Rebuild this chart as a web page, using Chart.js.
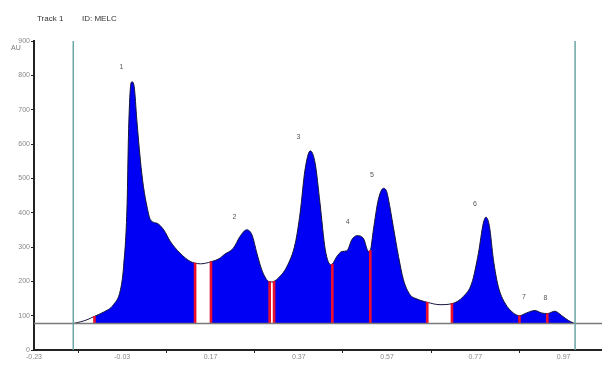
<!DOCTYPE html>
<html>
<head>
<meta charset="utf-8">
<script src="https://cdn.jsdelivr.net/npm/chart.js@4.4.0/dist/chart.umd.min.js"></script>
<style>
html, body { margin: 0; padding: 0; background: #fff; }
#wrap { width: 602px; height: 366px; }
</style>
</head>
<body>
<div id="wrap"><canvas id="densito"></canvas></div>
<script>
// scan of track 1 (Rf vs AU)
const rf = [-0.141, -0.125, -0.110, -0.093, -0.073, -0.050, -0.034, -0.027, -0.019, -0.016,
  -0.012, -0.008, -0.003, 0.003, 0.011, 0.018, 0.026, 0.034, 0.049, 0.064,
  0.079, 0.101, 0.124, 0.135, 0.147, 0.171, 0.192, 0.200, 0.222, 0.237,
  0.252, 0.264, 0.275, 0.286, 0.301, 0.304, 0.309, 0.314, 0.324, 0.343,
  0.362, 0.373, 0.384, 0.396, 0.407, 0.418, 0.430, 0.443, 0.446, 0.456,
  0.468, 0.479, 0.490, 0.502, 0.516, 0.528, 0.532, 0.539, 0.550, 0.562,
  0.569, 0.573, 0.584, 0.596, 0.607, 0.622, 0.637, 0.661, 0.690, 0.717,
  0.743, 0.762, 0.777, 0.788, 0.794, 0.802, 0.811, 0.822, 0.837, 0.856,
  0.870, 0.886, 0.905, 0.920, 0.933, 0.950, 0.966, 0.981, 0.992, 0.996];
const au = [77, 82, 88, 98, 110, 132, 176, 243, 428, 621,
  757, 781, 767, 670, 553, 476, 418, 379, 369, 350,
  316, 282, 258, 253, 251, 257, 268, 277, 297, 331,
  350, 335, 282, 234, 200, 199, 198, 200, 210, 243,
  311, 399, 524, 580, 544, 428, 292, 248, 250, 272,
  287, 289, 321, 333, 326, 287, 290, 350, 437, 471,
  462, 440, 360, 272, 205, 161, 149, 139, 132, 135,
  156, 195, 282, 369, 387, 360, 263, 185, 137, 108,
  100, 108, 115, 108, 106, 113, 100, 86, 79, 77];
const baseAU = 77;

// peak split lines
const splitRf = [-0.093, 0.135, 0.171, 0.304, 0.314, 0.446, 0.532, 0.661, 0.717, 0.870, 0.933];
const splitAU = [98, 253, 257, 199, 200, 250, 290, 139, 135, 100, 106];

// unintegrated stretches
const gapStart = [-0.141, 0.135, 0.304, 0.661];
const gapEnd = [-0.093, 0.171, 0.314, 0.717];

const peakNo = ['1', '2', '3', '4', '5', '6', '7', '8'];
const peakRf = [-0.032, 0.224, 0.369, 0.481, 0.536, 0.769, 0.880, 0.929];
const peakAU = [825, 388, 620, 374, 510, 425, 153, 151];

const trackLines = [-0.141, 0.996];
const xTicks = [-0.23, -0.03, 0.17, 0.37, 0.57, 0.77, 0.97];
const yTicks = [0, 100, 200, 300, 400, 500, 600, 700, 800, 900];

const xMin = -0.23, xMax = 1.057;

function inGap(a, b) {
    for (let i = 0; i < gapStart.length; i++) {
        if (a >= gapStart[i] - 1e-9 && b <= gapEnd[i] + 1e-9) return true;
    }
    return false;
}

const labels = {
    id: 'labels',
    afterDatasetsDraw(chart) {
        const { ctx, scales: { x, y } } = chart;
        ctx.save();
        ctx.fillStyle = '#555';
        ctx.font = '7px "Liberation Sans"';
        ctx.textAlign = 'center';
        ctx.textBaseline = 'middle';
        peakNo.forEach((n, i) => {
            ctx.fillText(n, x.getPixelForValue(peakRf[i]), y.getPixelForValue(peakAU[i]));
        });
        ctx.textAlign = 'left';
        ctx.textBaseline = 'alphabetic';
        ctx.fillStyle = '#333';
        ctx.font = '8px "Liberation Sans"';
        ctx.fillText('Track 1', 37, 21);
        ctx.fillText('ID: MELC', 82, 21);
        ctx.fillStyle = '#777';
        ctx.font = '7px "Liberation Sans"';
        ctx.fillText('AU', 11, 50);
        ctx.restore();
    }
};

const ctx = document.getElementById('densito').getContext('2d');
const densitoChart = new Chart(ctx, {
    type: 'line',
    data: {
        datasets: [{
            type: 'line',
            data: rf.map((v, i) => ({ x: v, y: au[i] })),
            borderColor: '#14143c',
            borderWidth: 1,
            backgroundColor: '#0000f4',
            fill: { value: baseAU },
            pointRadius: 0,
            cubicInterpolationMode: 'monotone',
            order: 3,
            segment: {
                backgroundColor: c => inGap(c.p0.parsed.x, c.p1.parsed.x) ? '#ffffff' : undefined
            }
        }, {
            type: 'bar',
            data: splitRf.map((v, i) => ({ x: v, y: [baseAU, splitAU[i]] })),
            backgroundColor: '#e8102c',
            barThickness: 2,
            order: 2
        }, {
            type: 'line',
            data: [{ x: xMin, y: baseAU }, { x: xMax, y: baseAU }],
            borderColor: '#7a7a7a',
            borderWidth: 1.5,
            pointRadius: 0,
            fill: false,
            order: 1
        }, {
            type: 'line',
            data: [{ x: trackLines[0], y: 0 }, { x: trackLines[0], y: 900 }],
            borderColor: '#6aa5a5',
            borderWidth: 1.5,
            pointRadius: 0,
            fill: false,
            order: 0
        }, {
            type: 'line',
            data: [{ x: trackLines[1], y: 0 }, { x: trackLines[1], y: 900 }],
            borderColor: '#6aa5a5',
            borderWidth: 1.5,
            pointRadius: 0,
            fill: false,
            order: 0
        }]
    },
    options: {
        responsive: true,
        maintainAspectRatio: false,
        animation: false,
        layout: { padding: { top: 41, left: 0, right: 0, bottom: 0 } },
        plugins: {
            legend: { display: false },
            tooltip: { enabled: false }
        },
        scales: {
            x: {
                type: 'linear',
                min: xMin,
                max: xMax,
                offset: false,
                afterBuildTicks: s => { s.ticks = xTicks.map(v => ({ value: v })); },
                afterFit: s => { s.height = 16; },
                ticks: {
                    autoSkip: false,
                    maxRotation: 0,
                    padding: 0,
                    color: '#888',
                    font: { family: 'Liberation Sans', size: 7 },
                    callback: v => v.toFixed(2)
                },
                grid: { drawOnChartArea: false, drawTicks: true, tickLength: 3, color: '#222' },
                border: { color: '#222', width: 2 }
            },
            y: {
                min: 0,
                max: 900,
                afterBuildTicks: s => { s.ticks = yTicks.map(v => ({ value: v })); },
                afterFit: s => { s.width = 34; },
                ticks: {
                    padding: 1,
                    color: '#888',
                    font: { family: 'Liberation Sans', size: 7 }
                },
                grid: { drawOnChartArea: false, drawTicks: true, tickLength: 3, color: '#222' },
                border: { color: '#222', width: 2 }
            }
        }
    },
    plugins: [labels]
});
</script>
</body>
</html>
